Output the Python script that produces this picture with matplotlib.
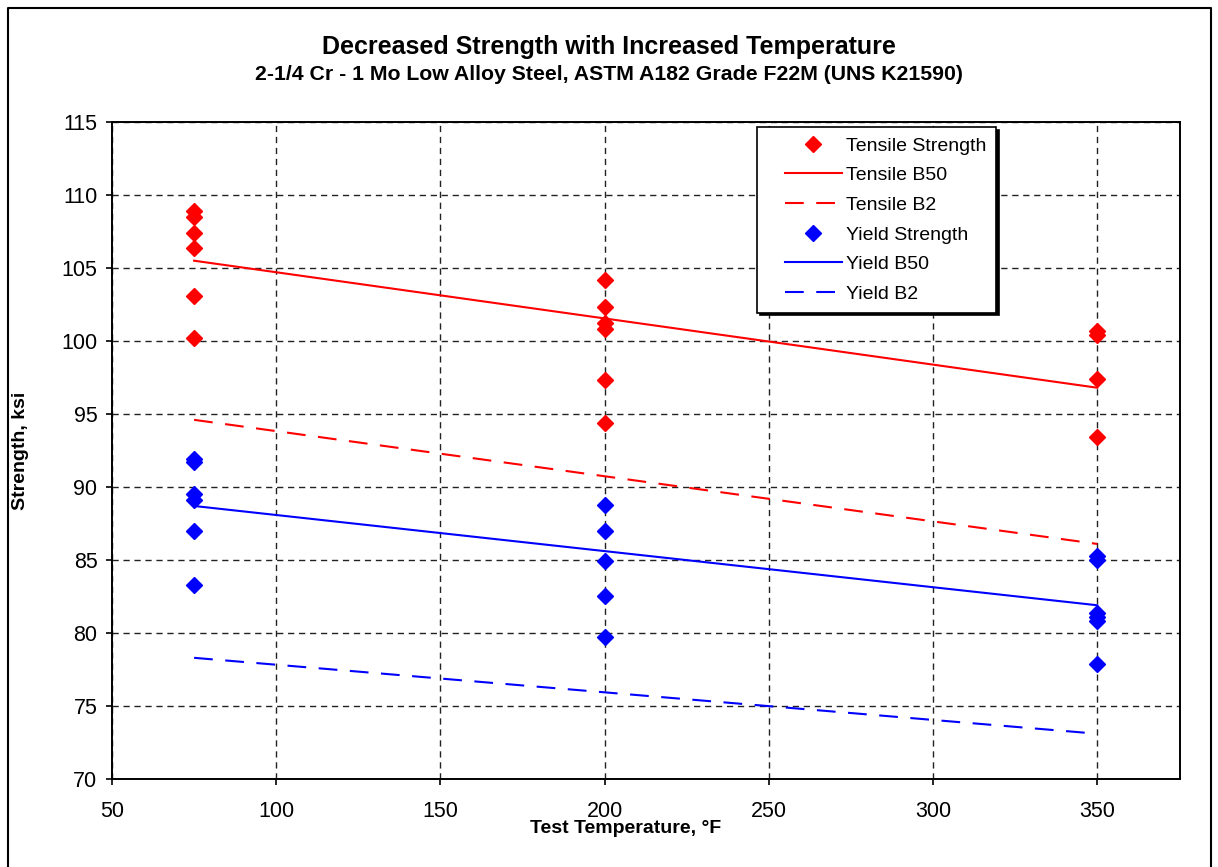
import matplotlib
matplotlib.use("Agg")
import matplotlib.pyplot as plt
from matplotlib.lines import Line2D
from matplotlib.legend_handler import HandlerLine2D

plt.rcParams["font.family"] = ["Liberation Sans", "DejaVu Sans"]

# 试验数据
tensile_x = [75, 75, 75, 75, 75, 75, 200, 200, 200, 200, 200, 200, 350, 350, 350, 350]
tensile_y = [108.9, 108.5, 107.4, 106.4, 103.1, 100.2,
             104.2, 102.3, 101.2, 100.8, 97.3, 94.4,
             100.7, 100.4, 97.4, 93.4]
yield_x = [75, 75, 75, 75, 75, 75, 200, 200, 200, 200, 200, 350, 350, 350, 350, 350, 350]
yield_y = [91.9, 91.7, 89.5, 89.1, 87.0, 83.3,
           88.8, 87.0, 84.9, 82.5, 79.7,
           85.3, 85.0, 81.4, 81.1, 80.8, 77.9]

# B50 / B2 设计曲线端点
fit_x = [75, 350]
tensile_b50 = [105.5, 96.8]
tensile_b2 = [94.6, 86.1]
yield_b50 = [88.7, 81.9]
yield_b2 = [78.3, 73.1]

x_ticks = [50, 100, 150, 200, 250, 300, 350]
y_ticks = [70, 75, 80, 85, 90, 95, 100, 105, 110, 115]

fig = plt.figure(figsize=(12.18, 8.67), dpi=100)
ax = fig.add_axes([112 / 1218, 1 - 779 / 867, 1068 / 1218, 657 / 867])

ax.set_xlim(50, 375.2)
ax.set_ylim(70, 115)
ax.set_xticks(x_ticks)
ax.set_yticks(y_ticks)

ax.grid(True, color="#222222", linestyle=(0, (4.5, 3.4)), linewidth=1.0)
ax.set_axisbelow(True)
for sp in ax.spines.values():
    sp.set_linewidth(1.4)
ax.tick_params(direction="out", length=4.5, width=1.2, labelsize=15.5, colors="black")
ax.tick_params(axis="x", pad=11)
ax.tick_params(axis="y", pad=6)

ax.plot(tensile_x, tensile_y, linestyle="none", marker="D", markersize=8,
        color="red", label="Tensile Strength", zorder=4)
ax.plot(fit_x, tensile_b50, color="red", lw=1.5, label="Tensile B50", zorder=3)
ax.plot(fit_x, tensile_b2, color="red", lw=1.5, dashes=(9, 6), label="Tensile B2", zorder=3)
ax.plot(yield_x, yield_y, linestyle="none", marker="D", markersize=8,
        color="blue", label="Yield Strength", zorder=4)
ax.plot(fit_x, yield_b50, color="blue", lw=1.5, label="Yield B50", zorder=3)
ax.plot(fit_x, yield_b2, color="blue", lw=1.5, dashes=(9, 6), label="Yield B2", zorder=3)

leg = ax.legend(loc="upper left", bbox_to_anchor=(0.604, 0.992), fontsize=14,
                frameon=True, fancybox=False, shadow={"color": "black", "alpha": 1},
                handlelength=3.87, handletextpad=0.2, labelspacing=0.62,
                borderpad=0.5, borderaxespad=0,
                handler_map={Line2D: HandlerLine2D(xpad=0.93)})
leg.get_frame().set_edgecolor("black")
leg.get_frame().set_linewidth(1.2)

ax.set_xlabel("Test Temperature, °F", fontsize=14, fontweight="bold")
ax.xaxis.set_label_coords((626 - 112) / 1068, -0.062)
ax.set_ylabel("Strength, ksi", fontsize=14, fontweight="bold")
ax.yaxis.set_label_coords(-0.078, 0.5)

fig.text(0.5, 1 - 47 / 867, "Decreased Strength with Increased Temperature",
         ha="center", va="center", fontsize=18, fontweight="bold")
fig.text(0.5, 1 - 75 / 867, "2-1/4 Cr - 1 Mo Low Alloy Steel, ASTM A182 Grade F22M (UNS K21590)",
         ha="center", va="center", fontsize=15.3, fontweight="bold")

# 外框
frame_x = [8 / 1218, 8 / 1218, 1211 / 1218, 1211 / 1218]
frame_y = [0, 1 - 8 / 867, 1 - 8 / 867, 0]
fig.add_artist(Line2D(frame_x, frame_y, color="black", lw=1.5, transform=fig.transFigure))

fig.savefig("out.png", dpi=100)
